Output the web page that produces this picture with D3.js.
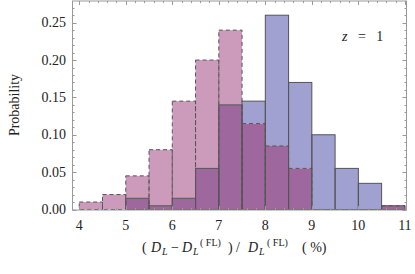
<!DOCTYPE html>
<html>
<head>
<meta charset="utf-8">
<script src="https://cdnjs.cloudflare.com/ajax/libs/d3/7.8.5/d3.min.js"></script>
<style>
  body { margin: 0; background: #fff; }
  svg { display: block; }
  text { font-family: "Times New Roman", "Liberation Serif", Times, serif; fill: #222; white-space: pre; }
</style>
</head>
<body>
<div id="chart"></div>
<script>
// DATA
const binStarts = [4, 4.5, 5, 5.5, 6, 6.5, 7, 7.5, 8, 8.5, 9, 9.5, 10, 10.5];
const binWidth = 0.5;
const pinkValues = [0.01, 0.02, 0.045, 0.08, 0.145, 0.20, 0.24, 0.115, 0.085, 0.055, 0, 0, 0, 0.005];
const blueValues = [0, 0, 0.015, 0.005, 0.015, 0.055, 0.14, 0.145, 0.26, 0.17, 0.10, 0.055, 0.035, 0.005];
const xTicks = [4, 5, 6, 7, 8, 9, 10, 11];
const yTicks = [0, 0.05, 0.10, 0.15, 0.20, 0.25];

const W = 415, H = 274;
const M = { left: 72.5, right: 8.5, top: 1, bottom: 64 };

const svg = d3.select('#chart').append('svg').attr('width', W).attr('height', H);

const x = d3.scaleLinear().domain([3.855, 11.035]).range([M.left, W - M.right]);
const y = d3.scaleLinear().domain([0, 0.279]).range([H - M.bottom - 0.5, M.top]);

const PINK = '#cc9abb', BLUE = '#a1a1d1', OVER = '#9e689e';

const bins = binStarts.map((b, i) => ({ x0: b, x1: b + binWidth, p: pinkValues[i], q: blueValues[i] }));

// FILLS
const g = svg.append('g');
bins.forEach(d => {
    const lo = Math.min(d.p, d.q), hi = Math.max(d.p, d.q);
    if (hi > lo) {
        g.append('rect')
            .attr('x', x(d.x0)).attr('width', x(d.x1) - x(d.x0))
            .attr('y', y(hi)).attr('height', y(lo) - y(hi))
            .attr('fill', d.p > d.q ? PINK : BLUE);
    }
    if (lo > 0) {
        g.append('rect')
            .attr('x', x(d.x0)).attr('width', x(d.x1) - x(d.x0))
            .attr('y', y(lo)).attr('height', y(0) - y(lo))
            .attr('fill', OVER);
    }
});

// OUTLINES
g.selectAll('.blue-edge')
    .data(bins.filter(d => d.q > 0))
    .enter().append('rect')
    .attr('class', 'blue-edge')
    .attr('x', d => x(d.x0)).attr('width', d => x(d.x1) - x(d.x0))
    .attr('y', d => y(d.q)).attr('height', d => y(0) - y(d.q))
    .attr('fill', 'none').attr('stroke', '#555').attr('stroke-width', 1);

g.selectAll('.pink-edge')
    .data(bins.filter(d => d.p > 0))
    .enter().append('rect')
    .attr('class', 'pink-edge')
    .attr('x', d => x(d.x0)).attr('width', d => x(d.x1) - x(d.x0))
    .attr('y', d => y(d.p)).attr('height', d => y(0) - y(d.p))
    .attr('fill', 'none').attr('stroke', '#555').attr('stroke-width', 1)
    .attr('stroke-dasharray', '4,3');

// FRAME
const fx0 = M.left, fx1 = W - M.right, fy0 = M.top, fy1 = H - M.bottom;
svg.append('rect')
    .attr('x', fx0).attr('y', fy0).attr('width', fx1 - fx0).attr('height', fy1 - fy0)
    .attr('fill', 'none').attr('stroke', '#999').attr('stroke-width', 1);

// TICKS (inward, on all sides)
const ticks = svg.append('g').attr('stroke', '#999').attr('stroke-width', 1);
const xMinor = d3.range(3.8, 11.01, 0.2).filter(v => v >= 3.855 && v <= 11.035);
xMinor.forEach(v => {
    const major = Math.abs(v - Math.round(v)) < 1e-6;
    const len = major ? 4 : 2;
    const px = Math.round(x(v)) + 0.5;
    ticks.append('line').attr('x1', px).attr('x2', px).attr('y1', fy1).attr('y2', fy1 - len);
    ticks.append('line').attr('x1', px).attr('x2', px).attr('y1', fy0).attr('y2', fy0 + len);
});
const yMinor = d3.range(0, 0.2791, 0.01);
yMinor.forEach((v, i) => {
    const major = i % 5 === 0;
    const len = major ? 4 : 2;
    const py = Math.round(y(v)) + 0.5;
    ticks.append('line').attr('x1', fx0).attr('x2', fx0 + len).attr('y1', py).attr('y2', py);
    ticks.append('line').attr('x1', fx1).attr('x2', fx1 - len).attr('y1', py).attr('y2', py);
});

// TICK LABELS
svg.append('g').selectAll('text')
    .data(xTicks).enter().append('text')
    .attr('x', d => x(d)).attr('y', 230)
    .attr('text-anchor', 'middle').attr('font-size', 14)
    .text(d => d);

svg.append('g').selectAll('text')
    .data(yTicks).enter().append('text')
    .attr('x', 66).attr('y', d => y(d) + 4.5)
    .attr('text-anchor', 'end').attr('font-size', 14)
    .text(d => d.toFixed(2));

// AXIS LABELS
svg.append('text')
    .attr('transform', `translate(19, 105) rotate(-90)`)
    .attr('text-anchor', 'middle').attr('font-size', 14)
    .text('Probability');

// x label pieces: [text, x, kind]
const NB = '\u00a0';
const labelParts = [
    ['(', 142, 'n'], ['D', 151, 'i'], ['L', 162, 's'], ['\u2212', 171, 'n'],
    ['D', 182, 'i'], ['L', 193, 's'], ['(' + NB + 'FL)', 200, 'u'], [')', 228, 'n'],
    ['/', 236, 'n'], ['D', 248, 'i'], ['L', 259, 's'], ['(' + NB + 'FL)', 267, 'u'],
    ['(' + NB + '%)', 302, 'n']
];
const xl = svg.append('g');
labelParts.forEach(([t, px, k]) => {
    xl.append('text')
        .attr('x', px)
        .attr('y', k === 's' ? 255 : k === 'u' ? 246 : 252)
        .attr('font-size', k === 's' || k === 'u' ? 10 : 14)
        .attr('font-style', k === 'i' || k === 's' ? 'italic' : 'normal')
        .text(t);
});

// ANNOTATION
const ann = svg.append('text').attr('x', 342).attr('y', 41).attr('font-size', 14);
ann.append('tspan').attr('font-style', 'italic').text('z');
ann.append('tspan').text(NB + NB + NB + '=' + NB + NB + NB + '1');
</script>
</body>
</html>
